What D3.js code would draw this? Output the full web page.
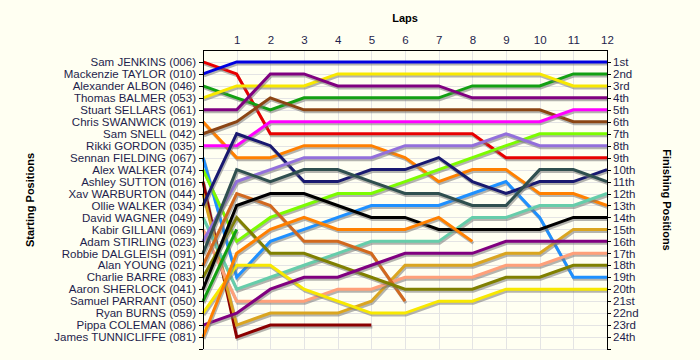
<!DOCTYPE html>
<html>
<head>
<meta charset="utf-8">
<script src="https://cdn.jsdelivr.net/npm/d3@7"></script>
<style>
  body { margin: 0; background: #fffff2; }
  svg { display: block; font-family: "Liberation Sans", Arial, sans-serif; }
  .grid line { stroke: #e4e4e4; stroke-width: 1px; }
  .axis path, .axis line { stroke: #000; shape-rendering: crispEdges; }
  .axis text { fill: #1e1e4c; font-size: 11.5px; }
  .title { font-size: 11px; font-weight: bold; fill: #000; }
</style>
</head>
<body>
<svg width="700" height="360"></svg>
<script>
var width = 700,
    height = 360;

// drivers in starting order
var drivers = [
  "Sam JENKINS (006)", "Mackenzie TAYLOR (010)", "Alexander ALBON (046)",
  "Thomas BALMER (053)", "Stuart SELLARS (061)", "Chris SWANWICK (019)",
  "Sam SNELL (042)", "Rikki GORDON (035)", "Sennan FIELDING (067)",
  "Alex WALKER (074)", "Ashley SUTTON (016)", "Xav WARBURTON (044)",
  "Ollie WALKER (034)", "David WAGNER (049)", "Kabir GILLANI (069)",
  "Adam STIRLING (023)", "Robbie DALGLEISH (091)", "Alan YOUNG (021)",
  "Charlie BARRE (083)", "Aaron SHERLOCK (041)", "Samuel PARRANT (050)",
  "Ryan BURNS (059)", "Pippa COLEMAN (086)", "James TUNNICLIFFE (081)"
];

// position at lap 0..n for each driver (shorter = retired)
var lapPositions = [
  [1, 2, 7, 7, 7, 7, 7, 7, 7, 9, 9, 9, 9],
  [2, 1, 1, 1, 1, 1, 1, 1, 1, 1, 1, 1, 1],
  [3, 4, 5, 4, 4, 4, 4, 4, 3, 3, 3, 2, 2],
  [4, 3, 3, 3, 2, 2, 2, 2, 2, 2, 2, 3, 3],
  [5, 5, 2, 2, 3, 3, 3, 3, 4, 4, 4, 4, 4],
  [6, 9, 9, 8, 8, 8, 9, 11, 10, 10, 12, 12, 13],
  [7, 6, 4, 5, 5, 5, 5, 5, 5, 5, 5, 6, 6],
  [8, 8, 6, 6, 6, 6, 6, 6, 6, 6, 6, 5, 5],
  [9, 19, 16, 15, 14, 13, 13, 13, 12, 11, 14, 19, 19],
  [10, 16, 14, 13, 12, 12, 11, 10, 9, 8, 7, 7, 7],
  [11, 24, 23, 23, 23, 23],
  [12, 23, 22, 22, 22, 21, 18, 18, 18, 17, 17, 15, 15],
  [13, 7, 8, 11, 11, 10, 10, 9, 11, 12, 11, 11, 10],
  [14, 20, 19, 18, 17, 16, 16, 16, 14, 14, 13, 13, 12],
  [15, 21, 21, 21, 20, 20, 19, 19, 19, 18, 18, 17, 17],
  [16, 11, 10, 9, 9, 9, 8, 8, 8, 7, 8, 8, 8],
  [17, 10, 11, 10, 10, 11, 12, 12, 13, 13, 10, 10, 11],
  [18, 12, 13, 16, 16, 17, 21],
  [19, 14, 17, 17, 18, 19, 20, 20, 20, 19, 19, 18, 18],
  [20, 13, 12, 12, 13, 14, 14, 15, 15, 15, 15, 14, 14],
  [21, 15],
  [22, 18, 18, 20, 21, 22, 22, 21, 21, 20, 20, 20, 20],
  [23, 22, 20, 19, 19, 18, 17, 17, 17, 16, 16, 16, 16],
  [24, 17, 15, 14, 15, 15, 15, 14, 16]
];

var laps = [1, 2, 3, 4, 5, 6, 7, 8, 9, 10, 11, 12];

var finishLabels = [
  "1st", "2nd", "3rd", "4th", "5th", "6th", "7th", "8th", "9th", "10th",
  "11th", "12th", "13th", "14th", "15th", "16th", "17th", "18th", "19th",
  "20th", "21st", "22nd", "23rd", "24th"
];

var palette = [
  "#e80000", "#0000e0", "#12a012", "#f8e800", "#800080", "#ff8000",
  "#8b4513", "#ff00ff", "#1e90ff", "#7cfc00", "#8b0000", "#daa520",
  "#191970", "#66cdaa", "#ffa07a", "#9370db", "#2f4f4f", "#d2691e",
  "#808000", "#000000", "#12a012", "#f8e800", "#800080", "#ff8000"
];

var x = d3.scaleLinear().domain([0, 12]).range([203, 607]);
var y = d3.scaleLinear().domain([0, 25]).range([50, 349]);

var svg = d3.select("svg");

// grid
var grid = svg.append("g").attr("class", "grid");
grid.selectAll(".h")
    .data(d3.range(1, 26))
  .enter().append("line")
    .attr("x1", x(0)).attr("x2", x(12))
    .attr("y1", function(d) { return Math.round(y(d)) + 0.5; })
    .attr("y2", function(d) { return Math.round(y(d)) + 0.5; });
grid.selectAll(".v")
    .data(laps)
  .enter().append("line")
    .attr("y1", y(0)).attr("y2", y(25))
    .attr("x1", function(d) { return Math.round(x(d)) + 0.5; })
    .attr("x2", function(d) { return Math.round(x(d)) + 0.5; });

var line = d3.line()
    .x(function(d, i) { return x(i); })
    .y(function(d) { return y(d); });

var series = svg.append("g").selectAll(".driver")
    .data(lapPositions)
  .enter().append("g")
    .attr("class", "driver");

// drop shadow under each line
series.append("path")
    .attr("d", line)
    .attr("transform", "translate(1,2)")
    .style("fill", "none")
    .style("stroke", "#777")
    .style("stroke-opacity", 0.55)
    .style("stroke-width", 3);

series.append("path")
    .attr("d", line)
    .style("fill", "none")
    .style("stroke", function(d, i) { return palette[i]; })
    .style("stroke-width", 3);

// axes
var startLabel = {};
drivers.forEach(function(n, i) { startLabel[i + 1] = n; });

svg.append("g")
    .attr("class", "axis")
    .attr("transform", "translate(" + x(0) + ",0)")
    .call(d3.axisLeft(y).tickValues(d3.range(1, 26)).tickSize(4).tickPadding(3)
      .tickFormat(function(d) { return startLabel[d] || ""; }));

svg.append("g")
    .attr("class", "axis")
    .attr("transform", "translate(" + x(12) + ",0)")
    .call(d3.axisRight(y).tickValues(d3.range(1, 26)).tickSize(4).tickPadding(2)
      .tickFormat(function(d) { return finishLabels[d - 1] || ""; }));

svg.append("g")
    .attr("class", "axis")
    .attr("transform", "translate(0," + y(0) + ")")
    .call(d3.axisTop(x).tickValues(laps).tickSize(0).tickPadding(6)
      .tickFormat(d3.format("d")));

svg.selectAll(".axis .domain").attr("d", null);
svg.append("line")
    .attr("x1", x(0)).attr("x2", x(12)).attr("y1", 50.5).attr("y2", 50.5)
    .style("stroke", "#000");
svg.append("line")
    .attr("x1", x(0) + 0.5).attr("x2", x(0) + 0.5).attr("y1", 50).attr("y2", y(25))
    .style("stroke", "#000");
svg.append("line")
    .attr("x1", x(12) + 0.5).attr("x2", x(12) + 0.5).attr("y1", 50).attr("y2", y(25))
    .style("stroke", "#000");

// titles
svg.append("text")
    .attr("class", "title")
    .attr("x", 405).attr("y", 22)
    .attr("text-anchor", "middle")
    .text("Laps");

svg.append("text")
    .attr("class", "title")
    .attr("transform", "translate(34,200) rotate(-90)")
    .attr("text-anchor", "middle")
    .text("Starting Positions");

svg.append("text")
    .attr("class", "title")
    .attr("transform", "translate(663,200) rotate(90)")
    .attr("text-anchor", "middle")
    .text("Finishing Positions");
</script>
</body>
</html>
